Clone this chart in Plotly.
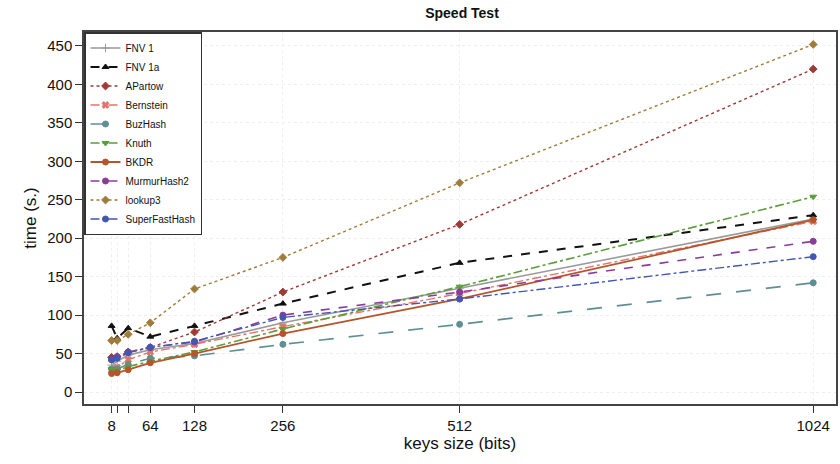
import plotly.graph_objects as go

keys = [8, 16, 32, 64, 128, 256, 512, 1024]
tick_labels = ["8", "", "", "64", "128", "256", "512", "1024"]

fnv1 = [35, 40, 48, 55, 63, 90, 135, 225]
fnv1a = [86, 70, 83, 72, 86, 115, 168, 230]
apartow = [45, 46, 52, 58, 78, 130, 218, 420]
bernstein = [28, 32, 42, 52, 62, 85, 128, 222]
buzhash = [30, 30, 36, 44, 47, 62, 88, 142]
knuth = [30, 28, 33, 40, 52, 82, 137, 254]
bkdr = [24, 25, 29, 38, 50, 76, 121, 224]
murmur2 = [42, 46, 52, 58, 65, 100, 130, 196]
lookup3 = [67, 67, 75, 90, 134, 175, 272, 452]
superfast = [42, 44, 51, 58, 66, 97, 121, 176]

series = [
    ("FNV 1", fnv1, "#9a9a9a", "solid", "cross-thin", 1.6),
    ("FNV 1a", fnv1a, "#111111", "dash", "triangle-up", 2.0),
    ("APartow", apartow, "#9e3b34", "dot", "diamond", 1.4),
    ("Bernstein", bernstein, "#e2746c", "dashdot", "x", 1.4),
    ("BuzHash", buzhash, "#5f8f93", "longdash", "circle", 1.6),
    ("Knuth", knuth, "#5b9e3a", "dashdot", "triangle-down", 1.6),
    ("BKDR", bkdr, "#b5552a", "solid", "circle", 1.8),
    ("MurmurHash2", murmur2, "#8a3c9a", "dash", "circle", 1.6),
    ("lookup3", lookup3, "#a07c3a", "dot", "diamond", 1.4),
    ("SuperFastHash", superfast, "#4257b0", "dashdot", "circle", 1.4),
]

fig = go.Figure()
for name, vals, color, dash, sym, lw in series:
    fig.add_trace(go.Scatter(
        x=keys, y=vals, name=name, mode="lines+markers",
        line=dict(color=color, dash=dash, width=lw),
        marker=dict(symbol=sym, size=6, color=color,
                    line=dict(color=color, width=1)),
    ))

FONT = "Liberation Sans, Arial, sans-serif"
axis_common = dict(
    showline=True, linecolor="#444444", linewidth=1.5, mirror=True,
    ticks="outside", ticklen=7, tickcolor="#333333", tickwidth=1.2,
    showgrid=True, gridcolor="#eeeeee", griddash="dot", gridwidth=1,
    zeroline=False,
    tickfont=dict(family=FONT, size=15, color="#111111"),
    title_font=dict(family=FONT, size=17, color="#111111"),
)

fig.update_xaxes(
    range=[-32, 1057], tickmode="array", tickvals=keys, ticktext=tick_labels,
    title_text="keys size (bits)", title_standoff=4, **axis_common)
fig.update_yaxes(
    range=[-15.6, 468.2], tickmode="array", tickvals=list(range(0, 451, 50)),
    title_text="time (s.)", title_standoff=6, **axis_common)

fig.update_layout(
    width=840, height=464,
    margin=dict(l=84, r=2, t=32, b=60),
    paper_bgcolor="white", plot_bgcolor="white",
    title=dict(text="<b>Speed Test</b>", x=0.55, xanchor="center",
               y=1 - 13 / 464, yanchor="middle",
               font=dict(family=FONT, size=14, color="#111111")),
    legend=dict(x=0, y=1, xanchor="left", yanchor="top",
                bgcolor="white", bordercolor="#333333", borderwidth=1.5,
                font=dict(family=FONT, size=10, color="#111111"),
                tracegroupgap=0, itemwidth=30),
    showlegend=True,
)

fig.write_html(
    "out.html",
    config={"displayModeBar": False},
    post_script="document.body.style.margin='0';document.body.style.padding='0';",
)
